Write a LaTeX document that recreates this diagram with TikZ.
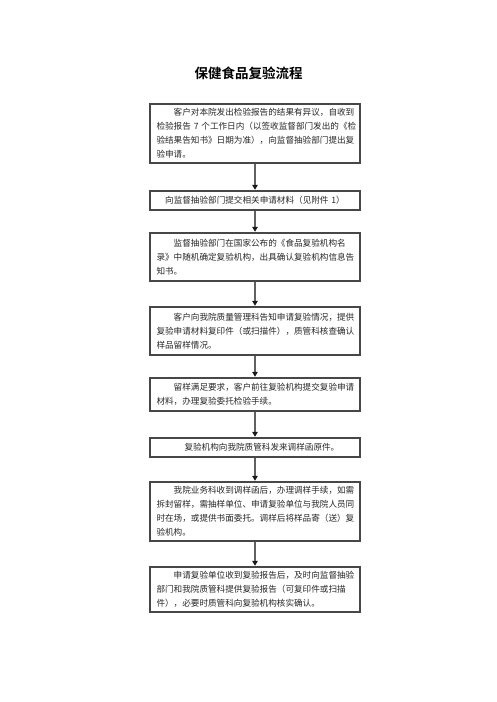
\documentclass[tikz,border=0pt]{standalone}
\usepackage{fontspec}
\newfontfamily\cjk{Noto Sans CJK SC}[BoldFont={Noto Sans CJK SC Bold}]
\usetikzlibrary{arrows.meta}
\begin{document}
\begin{tikzpicture}[x=1pt,y=-1pt,
  stepbox/.style={draw=black!72, line width=1.2pt, minimum width=210pt, text width=197pt, align=left, inner sep=0pt, font=\cjk\fontsize{8.6}{14}\selectfont, text=black!85},
  flow/.style={draw=black!62, line width=1.6pt, -{Triangle[length=5pt,width=5.5pt,color=black!90]}, shorten >=0.6pt}]
\useasboundingbox (0,0) rectangle (496,702);
\node[font=\cjk\bfseries\fontsize{13.5}{16}\selectfont] (title) at (248.5,73) {保健食品复验流程};
\node[stepbox, minimum height=59pt] (b1) at (255,133.5) {\hspace*{17.2pt}客户对本院发出检验报告的结果有异议，自收到\\检验报告~7~个工作日内（以签收监督部门发出的《检\\验结果告知书》日期为准），向监督抽验部门提出复\\验申请。};
\node[stepbox, minimum height=19pt, align=center] (b2) at (255,200.5) {向监督抽验部门提交相关申请材料（见附件~1）};
\node[stepbox, minimum height=48pt] (b3) at (255,257) {\hspace*{17.2pt}监督抽验部门在国家公布的《食品复验机构名\\录》中随机确定复验机构，出具确认复验机构信息告\\知书。};
\node[stepbox, minimum height=48pt] (b4) at (255,331) {\hspace*{17.2pt}客户向我院质量管理科告知申请复验情况，提供\\复验申请材料复印件（或扫描件），质管科核查确认\\样品留样情况。};
\node[stepbox, minimum height=33pt] (b5) at (255,394.5) {\hspace*{17.2pt}留样满足要求，客户前往复验机构提交复验申请\\材料，办理复验委托检验手续。};
\node[stepbox, minimum height=19pt] (b6) at (255,447.5) {\hspace*{28pt}复验机构向我院质管科发来调样函原件。};
\node[stepbox, minimum height=59pt] (b7) at (255,511.5) {\hspace*{17.2pt}我院业务科收到调样函后，办理调样手续，如需\\拆封留样，需抽样单位、申请复验单位与我院人员同\\时在场，或提供书面委托。调样后将样品寄（送）复\\验机构。};
\node[stepbox, minimum height=45pt] (b8) at (255,589.5) {\hspace*{17.2pt}申请复验单位收到复验报告后，及时向监督抽验\\部门和我院质管科提供复验报告（可复印件或扫描\\件），必要时质管科向复验机构核实确认。};
\draw[flow] (b1) -- (b2);
\draw[flow] (b2) -- (b3);
\draw[flow] (b3) -- (b4);
\draw[flow] (b4) -- (b5);
\draw[flow] (b5) -- (b6);
\draw[flow] (b6) -- (b7);
\draw[flow] (b7) -- (b8);
\end{tikzpicture}
\end{document}
